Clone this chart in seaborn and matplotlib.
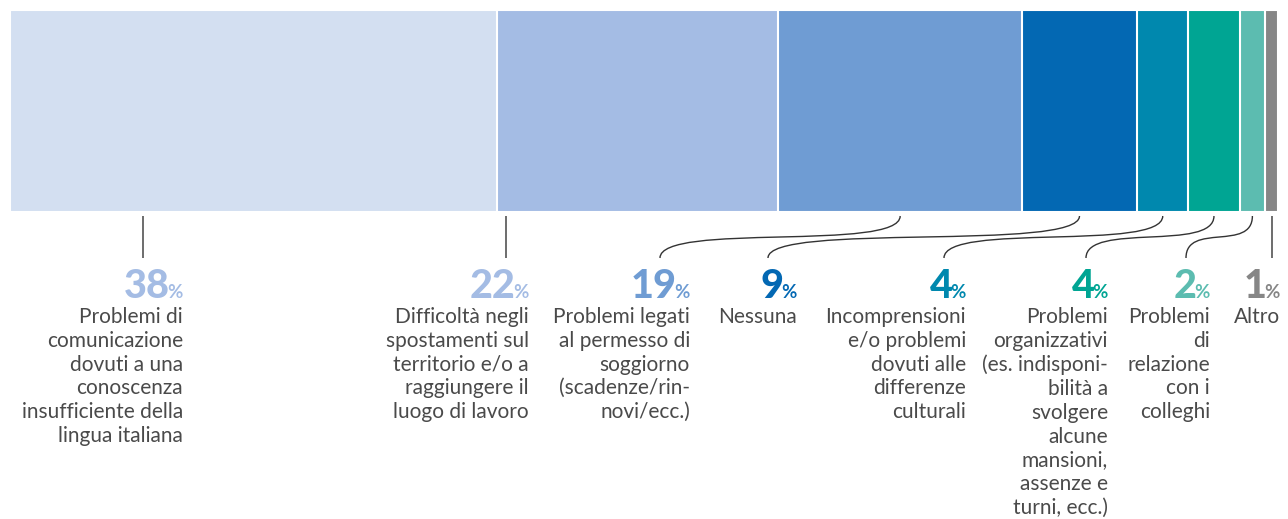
import matplotlib
matplotlib.use("Agg")
import matplotlib.pyplot as plt
from matplotlib.path import Path
from matplotlib.patches import PathPatch
import seaborn as sns
import numpy as np

# Dati
categorie = [
    "Problemi di\ncomunicazione\ndovuti a una\nconoscenza\ninsufficiente della\nlingua italiana",
    "Difficoltà negli\nspostamenti sul\nterritorio e/o a\nraggiungere il\nluogo di lavoro",
    "Problemi legati\nal permesso di\nsoggiorno\n(scadenze/rin-\nnovi/ecc.)",
    "Nessuna",
    "Incomprensioni\ne/o problemi\ndovuti alle\ndifferenze\nculturali",
    "Problemi\norganizzativi\n(es. indisponi-\nbilità a\nsvolgere\nalcune\nmansioni,\nassenze e\nturni, ecc.)",
    "Problemi\ndi\nrelazione\ncon i\ncolleghi",
    "Altro",
]
valori = [38, 22, 19, 9, 4, 4, 2, 1]

# Stile
colori_barre = ["#D3DFF1", "#A4BCE4", "#6F9CD3", "#0368B3", "#0088AE", "#00A593", "#5CBCB0", "#868686"]
colori_num = ["#A4BCE4", "#A4BCE4", "#6F9CD3", "#0368B3", "#0088AE", "#00A593", "#5CBCB0", "#868686"]
# bordo destro delle etichette e punto di arrivo dei connettori (pixel)
label_right = [183, 529, 690, 797, 966, 1108, 1210, 1280]
label_anchor = [143, 506, 660, 768, 944, 1086, 1186, 1272]
straight = [True, True, False, False, False, False, False, True]

W, H = 1288, 519
sns.set_theme(style="white")
plt.rcParams["font.family"] = ["Lato", "DejaVu Sans"]

fig = plt.figure(figsize=(W / 100, H / 100), dpi=100)
bar_left, bar_w, bar_top, bar_bot = 10, 1268, 10, 212
ax = fig.add_axes([bar_left / W, 1 - bar_bot / H, bar_w / W, (bar_bot - bar_top) / H])

# barra impilata: cumulati dal più lungo al più corto
cum = np.cumsum(valori)
for i in range(len(valori) - 1, -1, -1):
    sns.barplot(x=[cum[i]], y=["tot"], orient="h", color=colori_barre[i], width=1,
                saturation=1, edgecolor="white", linewidth=1.5, ax=ax)
ax.set_xlim(0, cum[-1])
ax.set_ylim(0.5, -0.5)
ax.axis("off")

ov = fig.add_axes([0, 0, 1, 1])
ov.set_xlim(0, W)
ov.set_ylim(H, 0)
ov.axis("off")

renderer = fig.canvas.get_renderer()
centri = cum - np.array(valori) / 2
for i, (lab, v) in enumerate(zip(categorie, valori)):
    x1 = label_anchor[i]
    x0 = x1 if straight[i] else bar_left + centri[i] / cum[-1] * bar_w
    y0, y1 = 216, 258
    path = Path([(x0, y0), (x0, 252), (x1, 222), (x1, y1)],
                [Path.MOVETO, Path.CURVE4, Path.CURVE4, Path.CURVE4])
    ov.add_patch(PathPatch(path, fill=False, color="#333333", lw=1))

    xr = label_right[i]
    pct = ov.text(xr, 298, "%", ha="right", va="baseline", fontsize=13.5,
                  fontweight="bold", color=colori_num[i])
    bb = pct.get_window_extent(renderer)
    ov.text(bb.x0 + 2, 298, str(v), ha="right", va="baseline", fontsize=28.5,
            fontweight="black", color=colori_num[i])
    ov.text(xr, 307, lab, ha="right", va="top", fontsize=15, color="#4a4a4a",
            linespacing=1.235)

fig.savefig("out.png", dpi=100)
